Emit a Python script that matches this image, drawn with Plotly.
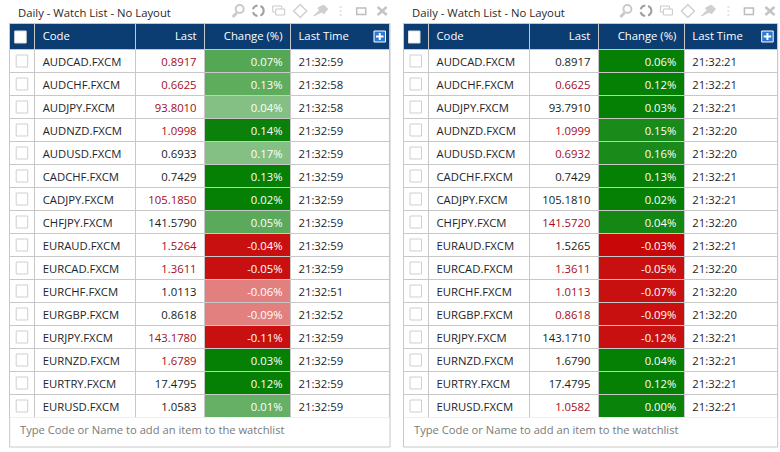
import plotly.graph_objects as go

codes = ["AUDCAD.FXCM", "AUDCHF.FXCM", "AUDJPY.FXCM", "AUDNZD.FXCM", "AUDUSD.FXCM", "CADCHF.FXCM", "CADJPY.FXCM", "CHFJPY.FXCM",
         "EURAUD.FXCM", "EURCAD.FXCM", "EURCHF.FXCM", "EURGBP.FXCM", "EURJPY.FXCM", "EURNZD.FXCM", "EURTRY.FXCM", "EURUSD.FXCM"]
headers = ["", "Code", "Last", "Change (%)", "Last Time"]

# left list
last_l = ["0.8917", "0.6625", "93.8010", "1.0998", "0.6933", "0.7429", "105.1850", "141.5790",
          "1.5264", "1.3611", "1.0113", "0.8618", "143.1780", "1.6789", "17.4795", "1.0583"]
change_l = ["0.07%", "0.13%", "0.04%", "0.14%", "0.17%", "0.13%", "0.02%", "0.05%",
            "-0.04%", "-0.05%", "-0.06%", "-0.09%", "-0.11%", "0.03%", "0.12%", "0.01%"]
time_l = ["21:32:59", "21:32:58", "21:32:58", "21:32:59", "21:32:59", "21:32:59", "21:32:59", "21:32:59",
          "21:32:59", "21:32:59", "21:32:51", "21:32:52", "21:32:59", "21:32:59", "21:32:59", "21:32:59"]
last_col_l = ["r", "r", "r", "r", "k", "k", "r", "k", "r", "r", "k", "k", "r", "r", "k", "k"]
fill_l = ["#54A854", "#5DAD5D", "#84C084", "#0B800B", "#84BF84", "#058005", "#058005", "#5BA95B",
          "#C91010", "#C91010", "#E27F7F", "#E27F7F", "#C91010", "#058005", "#058005", "#66B066"]

# right list
last_r = ["0.8917", "0.6625", "93.7910", "1.0999", "0.6932", "0.7429", "105.1810", "141.5720",
          "1.5265", "1.3611", "1.0113", "0.8618", "143.1710", "1.6790", "17.4795", "1.0582"]
change_r = ["0.06%", "0.12%", "0.03%", "0.15%", "0.16%", "0.13%", "0.02%", "0.04%",
            "-0.03%", "-0.05%", "-0.07%", "-0.09%", "-0.12%", "0.04%", "0.12%", "0.00%"]
time_r = ["21:32:21", "21:32:21", "21:32:21", "21:32:20", "21:32:20", "21:32:21", "21:32:21", "21:32:20",
          "21:32:21", "21:32:20", "21:32:20", "21:32:20", "21:32:21", "21:32:21", "21:32:21", "21:32:21"]
last_col_r = ["k", "r", "k", "r", "r", "k", "k", "r", "k", "r", "r", "r", "k", "k", "k", "r"]
fill_r = ["#058005", "#058005", "#058005", "#1A8A1A", "#1A8A1A", "#058005", "#058005", "#148714",
          "#C80808", "#C91010", "#C91010", "#C91010", "#C91010", "#058005", "#058005", "#0A830A"]

W, H = 780, 452
FONT = "Open Sans"
SIZE = 11.3
NAVY = "#0B3D73"
GRID = "#C8C8C8"
col_colors = {"r": "#A40C24", "k": "#141E24"}


def add_panel(fig, x0, x1, last, change, times, last_col, fills):
    n = len(codes)
    white = ["white"] * n
    fig.add_trace(go.Table(
        domain=dict(x=[x0 / W, x1 / W], y=[1 - 417.3 / H, 1 - 23.3 / H]),
        columnwidth=[25, 101, 69, 86, x1 - x0 - 281],
        header=dict(values=headers, height=26, fill_color=NAVY, line_color=GRID,
                    align=["left", "left", "right", "right", "left"],
                    font=dict(family=FONT, size=SIZE, color="white")),
        cells=dict(values=[[""] * n, codes, last, change, times], height=23,
                   fill_color=[white, white, white, fills, white], line_color=GRID,
                   align=["left", "left", "right", "right", "left"],
                   font=dict(family=FONT, size=SIZE,
                             color=[["#333"] * n, ["#1E262C"] * n, [col_colors[c] for c in last_col],
                                    ["white"] * n, ["#1E262C"] * n])),
    ))
    # outer frame + footer
    fig.add_shape(type="rect", x0=x0, x1=x1, y0=23.5, y1=447, xref="x", yref="y",
                  line=dict(color=GRID, width=1), layer="below")
    # title bar
    fig.add_annotation(x=x0 + 6, y=12.5, text="Daily - Watch List - No Layout", showarrow=False, xanchor="left",
                       font=dict(family=FONT, size=SIZE, color="#2A2A2A"))
    fig.add_annotation(x=x0 + 8, y=429, text="Type Code or Name to add an item to the watchlist", showarrow=False,
                       xanchor="left", font=dict(family=FONT, size=11.2, color="#7A7A7A"))
    # checkboxes
    for i in range(n):
        yc = 61 + i * 23
        fig.add_shape(type="rect", x0=x0 + 6.5, x1=x0 + 18, y0=yc - 6, y1=yc + 6, xref="x", yref="y",
                      line=dict(color="#CFCFCF", width=1), fillcolor="white")
    fig.add_shape(type="rect", x0=x0 + 5, x1=x0 + 16.5, y0=31, y1=43, xref="x", yref="y",
                  line=dict(color="#DDD", width=1), fillcolor="white")
    # plus button
    fig.add_shape(type="rect", x0=x1 - 16, x1=x1 - 4.5, y0=31, y1=42, xref="x", yref="y",
                  line=dict(color="white", width=1), fillcolor="#2E78D2")
    fig.add_shape(type="line", x0=x1 - 14, x1=x1 - 6.5, y0=36.5, y1=36.5, xref="x", yref="y",
                  line=dict(color="white", width=2))
    fig.add_shape(type="line", x0=x1 - 10.25, x1=x1 - 10.25, y0=33, y1=40, xref="x", yref="y",
                  line=dict(color="white", width=2))
    # toolbar icons, all light grey, placed from the right edge
    r = x1 - 380.3
    grey = dict(color="#C9C9C9", width=2)
    fig.add_shape(type="circle", x0=r + 226, x1=r + 234, y0=5, y1=13, xref="x", yref="y", line=grey)
    fig.add_shape(type="line", x0=r + 227, x1=r + 223, y0=13, y1=17, xref="x", yref="y", line=dict(color="#C9C9C9", width=3))
    fig.add_shape(type="circle", x0=r + 243, x1=r + 254, y0=5.5, y1=16, xref="x", yref="y",
                  line=dict(color="#A0A0A0", width=2, dash="6px,3px"))
    fig.add_shape(type="rect", x0=r + 263, x1=r + 272, y0=6, y1=12, xref="x", yref="y", line=dict(color="#C9C9C9", width=1))
    fig.add_shape(type="rect", x0=r + 266, x1=r + 275, y0=9, y1=15, xref="x", yref="y", line=dict(color="#C9C9C9", width=1), fillcolor="white")
    fig.add_shape(type="path", path=f"M {r + 284} 11 L {r + 290.5} 4.5 L {r + 297} 11 L {r + 290.5} 17.5 Z",
                  xref="x", yref="y", line=dict(color="#D0D0D0", width=1.5))
    fig.add_shape(type="path", path=f"M {r + 304} 16 L {r + 310} 10 L {r + 308} 8 L {r + 314} 5 L {r + 318} 9 L {r + 314} 14 L {r + 312} 12 Z",
                  xref="x", yref="y", fillcolor="#CFCFCF", line=dict(color="#CFCFCF", width=1))
    fig.add_shape(type="line", x0=r + 331, x1=r + 331, y0=6, y1=17, xref="x", yref="y",
                  line=dict(color="#E4E4E4", width=2, dash="2px,2px"))
    fig.add_shape(type="rect", x0=r + 347, x1=r + 356, y0=8, y1=14.5, xref="x", yref="y", line=dict(color="#BDBDBD", width=1.5))
    fig.add_shape(type="line", x0=r + 368, x1=r + 377, y0=7, y1=15, xref="x", yref="y", line=dict(color="#C4C4C4", width=2.5))
    fig.add_shape(type="line", x0=r + 377, x1=r + 368, y0=7, y1=15, xref="x", yref="y", line=dict(color="#C4C4C4", width=2.5))


fig = go.Figure()
add_panel(fig, 9.7, 390, last_l, change_l, time_l, last_col_l, fill_l)
add_panel(fig, 403.5, 777.7, last_r, change_r, time_r, last_col_r, fill_r)

fig.update_layout(width=W, height=H, margin=dict(l=0, r=0, t=0, b=0), paper_bgcolor="white", plot_bgcolor="white",
                  showlegend=False,
                  xaxis=dict(range=[0, W], visible=False, domain=[0, 1]),
                  yaxis=dict(range=[H, 0], visible=False, domain=[0, 1]))
# page default margin would push the figure 8px right and down
fig.write_html("out.html", config=dict(displayModeBar=False), post_script="document.body.style.margin='0';")
